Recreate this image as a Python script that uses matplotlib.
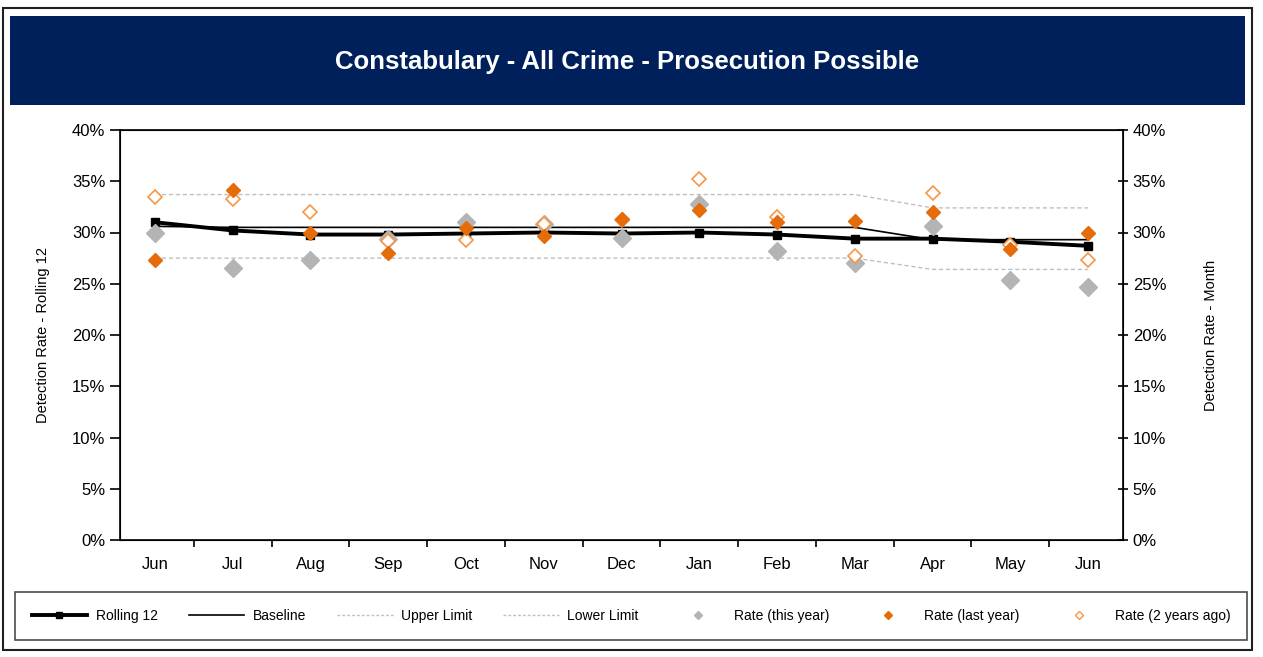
import matplotlib.pyplot as plt
import numpy as np
from matplotlib.patches import Rectangle
from matplotlib.lines import Line2D
from matplotlib.ticker import FuncFormatter, FixedLocator

plt.rcParams['font.family'] = ['Liberation Sans Narrow', 'Liberation Sans', 'DejaVu Sans']

months = ['Jun', 'Jul', 'Aug', 'Sep', 'Oct', 'Nov', 'Dec',
          'Jan', 'Feb', 'Mar', 'Apr', 'May', 'Jun']

# values in %
rolling_12 = [31.0, 30.2, 29.8, 29.8, 29.9, 30.0, 29.9, 30.0, 29.8, 29.4, 29.4, 29.1, 28.7]
baseline = [30.6, 30.5, 30.5, 30.5, 30.5, 30.5, 30.5, 30.5, 30.5, 30.5, 29.3, 29.3, 29.3]
upper_limit = [33.7, 33.7, 33.7, 33.7, 33.7, 33.7, 33.7, 33.7, 33.7, 33.7, 32.4, 32.4, 32.4]
lower_limit = [27.5, 27.5, 27.5, 27.5, 27.5, 27.5, 27.5, 27.5, 27.5, 27.5, 26.4, 26.4, 26.4]
rate_this_year = [30.0, 26.5, 27.3, 29.4, 31.0, 30.8, 29.5, 32.8, 28.2, 27.0, 30.6, 25.4, 24.7]
rate_last_year = [27.3, 34.1, 30.0, 28.0, 30.4, 29.7, 31.3, 32.2, 31.0, 31.1, 32.0, 28.4, 30.0]
rate_2_years_ago = [33.5, 33.3, 32.0, 29.2, 29.3, 30.8, 31.2, 35.2, 31.5, 27.7, 33.9, 28.8, 27.3]

fig = plt.figure(figsize=(12.63, 6.57), dpi=100)
W, H = 1263, 657

# outer frame and title band
fig.patches.append(Rectangle((3 / W, 1 - 650 / H), 1249 / W, 642 / H, transform=fig.transFigure,
                             facecolor='none', edgecolor='#202020', linewidth=1.5))
fig.patches.append(Rectangle((10 / W, 1 - 105 / H), 1235 / W, 89 / H, transform=fig.transFigure,
                             facecolor='#00205B', edgecolor='none'))
fig.text(627 / W, 1 - 62 / H, 'Constabulary - All Crime - Prosecution Possible',
         color='white', fontsize=18.5, fontweight='bold', ha='center', va='center')

ax = fig.add_axes([120 / W, 1 - 540 / H, 1003 / W, 410 / H])
x = np.arange(len(months))

ax.plot(x, upper_limit, color='#BFBFBF', lw=1, dashes=(3, 2), zorder=2)
ax.plot(x, lower_limit, color='#BFBFBF', lw=1, dashes=(3, 2), zorder=2)
ax.plot(x, baseline, color='black', lw=1.2, zorder=3)
ax.plot(x, rolling_12, color='black', lw=2.8, marker='s', ms=6, zorder=4)
# grey underneath, hollow over it, filled orange on top
ax.plot(x, rate_this_year, ls='none', marker='D', ms=9, color='#B4B4B4', zorder=5)
ax.plot(x, rate_2_years_ago, ls='none', marker='D', ms=7, mfc='white', mec='#F79646',
        mew=1.2, zorder=6)
ax.plot(x, rate_last_year, ls='none', marker='D', ms=7, color='#E46C0A', zorder=7)

ax.set_xlim(-0.45, 12.45)
ax.set_ylim(0, 40)
ax.set_xticks(x)
ax.set_xticklabels(months)
ax.xaxis.set_minor_locator(FixedLocator(np.arange(-0.5, 12.6, 1)))
ax.tick_params(axis='x', which='major', length=0, pad=12, labelsize=12)
ax.tick_params(axis='x', which='minor', length=5, width=1.2)
ax.set_yticks(np.arange(0, 41, 5))
pct = FuncFormatter(lambda v, p: f'{v:.0f}%')
ax.yaxis.set_major_formatter(pct)
ax.tick_params(axis='y', length=7, width=1.2, labelsize=12)
for s in ax.spines.values():
    s.set_linewidth(1.2)
ax.set_ylabel('Detection Rate - Rolling 12', fontsize=10.5, labelpad=16)

ax2 = ax.twinx()
ax2.set_ylim(0, 40)
ax2.set_yticks(np.arange(0, 41, 5))
ax2.yaxis.set_major_formatter(pct)
ax2.tick_params(axis='y', length=7, width=1.2, labelsize=12, direction='inout')
ax2.set_ylabel('Detection Rate - Month', fontsize=10.5, labelpad=27)

handles = [
    Line2D([], [], color='black', lw=2.8, marker='s', ms=4),
    Line2D([], [], color='black', lw=1.2),
    Line2D([], [], color='#BFBFBF', lw=1, dashes=(2, 1.5)),
    Line2D([], [], color='#BFBFBF', lw=1, dashes=(2, 1.5)),
    Line2D([], [], ls='none', marker='D', ms=4, color='#B4B4B4'),
    Line2D([], [], ls='none', marker='D', ms=4, color='#E46C0A'),
    Line2D([], [], ls='none', marker='D', ms=4, mfc='white', mec='#F79646'),
]
labels = ['Rolling 12', 'Baseline', 'Upper Limit', 'Lower Limit',
          'Rate (this year)', 'Rate (last year)', 'Rate (2 years ago)']
leg = fig.legend(handles, labels, ncol=7, loc='center',
                 bbox_to_anchor=(15 / W, 1 - 642 / H, 1232 / W, 52 / H),
                 mode='expand', frameon=True, fancybox=False, fontsize=10,
                 handlelength=4, handletextpad=0.6, borderpad=1.2, borderaxespad=0)
leg.get_frame().set_edgecolor('#202020')
leg.get_frame().set_linewidth(1.2)

fig.savefig('out.png', dpi=100)
